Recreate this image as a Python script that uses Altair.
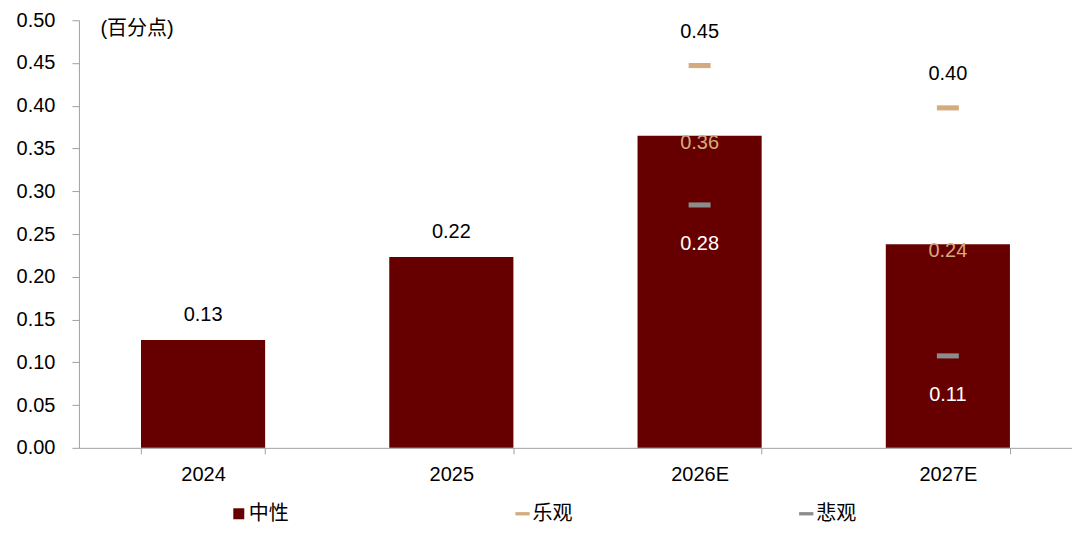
import altair as alt
import pandas as pd

years = ["2024", "2025", "2026E", "2027E"]
neutral = [0.126, 0.223, 0.365, 0.238]
optimistic = [None, None, 0.447, 0.3975]
pessimistic = [None, None, 0.284, 0.1075]
series_names = ["中性", "乐观", "悲观"]
series_colors = ["#660000", "#D4AB7F", "#8C8C8C"]
dash = "M-1.3,-0.3H1.3V0.3H-1.3Z"
series_shapes = ["square", dash, dash]
y_ticks = [0.0, 0.05, 0.10, 0.15, 0.20, 0.25, 0.30, 0.35, 0.40, 0.45, 0.50]

df = pd.DataFrame({"year": years, "中性": neutral, "乐观": optimistic, "悲观": pessimistic})

FONT = "Liberation Sans, Arial, Noto Sans CJK SC"

xenc = alt.X(
    "year:N",
    sort=years,
    scale=alt.Scale(paddingInner=0.5, paddingOuter=0.25),
    axis=alt.Axis(
        title=None, labelAngle=0, tickBand="extent", tickSize=6,
        labelPadding=11, labelFontSize=20, labelColor="#000000",
        domainColor="#A0A0A0", tickColor="#A0A0A0", labelFont=FONT,
    ),
)

yscale = alt.Scale(domain=[0, 0.5], nice=False, zero=True)
yaxis = alt.Axis(
    values=y_ticks, format=".2f", grid=False, tickSize=7,
    labelPadding=17, labelFontSize=20, labelFont=FONT,
    labelColor="#000000", domainColor="#A0A0A0", tickColor="#A0A0A0",
    title="(百分点)", titleAngle=0, titleAlign="left",
    titleBaseline="middle", titleX=21, titleY=8,
    titleFontSize=20, titleFontWeight="normal", titleFont=FONT,
    titleColor="#000000",
)

legend_props = dict(
    title=None, orient="none", legendX=150, legendY=484,
    direction="horizontal", columns=3, columnPadding=224,
    labelFontSize=20, labelFont=FONT, labelColor="#000000",
    labelOffset=0, symbolSize=121, symbolStrokeWidth=0,
)

color = alt.Color(
    "series:N",
    scale=alt.Scale(domain=series_names, range=series_colors),
    legend=alt.Legend(**legend_props),
)
shape = alt.Shape(
    "series:N",
    scale=alt.Scale(domain=series_names, range=series_shapes),
    legend=alt.Legend(**legend_props),
)

base = alt.Chart(df)

bars = base.transform_fold(["中性"], as_=["series", "value"]).mark_bar().encode(
    x=xenc,
    y=alt.Y("value:Q", scale=yscale, axis=yaxis),
    color=color,
)

ticks = (
    base.transform_fold(["乐观", "悲观"], as_=["series", "value"])
    .transform_filter("isValid(datum.value)")
    .mark_point(filled=True, size=286, opacity=1, strokeWidth=0)
    .encode(
        x=alt.X("year:N", sort=years),
        y=alt.Y("value:Q", scale=yscale, axis=yaxis),
        color=color,
        shape=shape,
    )
)

txt = dict(fontSize=20, font=FONT, baseline="alphabetic", align="center")

lab_above = base.transform_filter("!isValid(datum['乐观'])").mark_text(dy=-19, color="#000000", **txt).encode(
    x=alt.X("year:N", sort=years),
    y=alt.Y(field="中性", type="quantitative", scale=yscale, axis=yaxis),
    text=alt.Text(field="中性", type="quantitative", format=".2f"),
)
lab_inside = base.transform_filter("isValid(datum['乐观'])").mark_text(dy=13, color=series_colors[1], **txt).encode(
    x=alt.X("year:N", sort=years),
    y=alt.Y(field="中性", type="quantitative", scale=yscale, axis=yaxis),
    text=alt.Text(field="中性", type="quantitative", format=".2f"),
)
lab_opt = base.transform_filter("isValid(datum['乐观'])").mark_text(dy=-28, color="#000000", **txt).encode(
    x=alt.X("year:N", sort=years),
    y=alt.Y(field="乐观", type="quantitative", scale=yscale, axis=yaxis),
    text=alt.Text(field="乐观", type="quantitative", format=".2f"),
)
lab_pess = base.transform_filter("isValid(datum['悲观'])").mark_text(dy=45, color="#FFFFFF", **txt).encode(
    x=alt.X("year:N", sort=years),
    y=alt.Y(field="悲观", type="quantitative", scale=yscale, axis=yaxis),
    text=alt.Text(field="悲观", type="quantitative", format=".2f"),
)

chart = (
    alt.layer(bars, ticks, lab_above, lab_inside, lab_opt, lab_pess)
    .properties(
        width=994, height=428,
        padding={"left": 71, "top": 12, "right": 0, "bottom": 80},
        autosize=alt.AutoSizeParams(type="none"),
        background="#FFFFFF",
    )
    .configure_view(stroke=None)
)

chart.save("out.html", embed_options={"renderer": "svg", "actions": False})
